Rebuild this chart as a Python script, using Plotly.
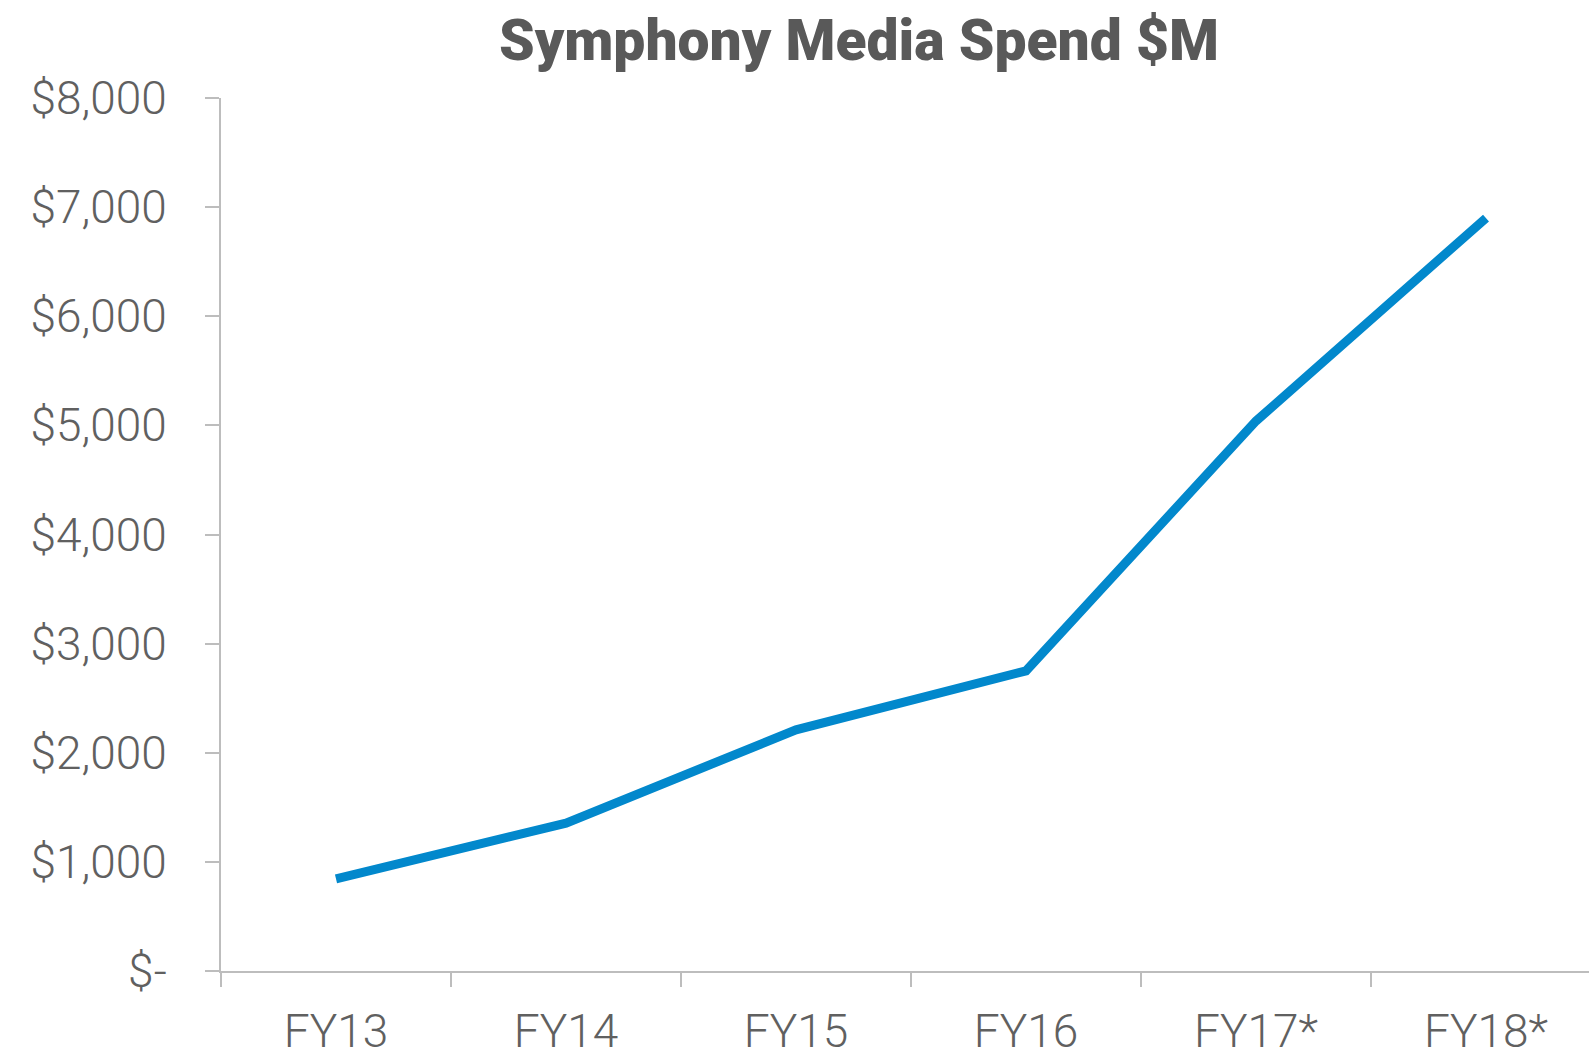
import plotly.graph_objects as go

categories = ["FY13", "FY14", "FY15", "FY16", "FY17*", "FY18*"]
spend = [845, 1355, 2210, 2750, 5040, 6900]
y_ticks = [0, 1000, 2000, 3000, 4000, 5000, 6000, 7000, 8000]
y_tick_labels = ["$-", "$1,000", "$2,000", "$3,000", "$4,000", "$5,000", "$6,000", "$7,000", "$8,000"]

W, H = 1589, 1054
L, T, B = 221, 98, 83

fig = go.Figure(go.Scatter(
    x=categories, y=spend, mode="lines",
    line=dict(color="#0288CC", width=9), hoverinfo="skip",
))

tick_font = dict(family="Roboto Light, Roboto", size=46, color="#606060", weight=300)
axis_col = "#BDBDBD"

fig.update_layout(
    width=W, height=H,
    margin=dict(l=L, r=0, t=T, b=B, autoexpand=False),
    paper_bgcolor="white", plot_bgcolor="white",
    showlegend=False,
    title=dict(text="Symphony Media Spend $M", x=859 / W, xanchor="center",
               y=1 - 40 / H, yanchor="middle", yref="container",
               font=dict(family="Roboto Black, Roboto", size=57, color="#595959", weight=900)),
    xaxis=dict(
        type="category", categoryorder="array", categoryarray=categories,
        range=[-0.5, (W - L) / 230 - 0.5],
        showgrid=False, zeroline=False,
        showline=True, linecolor=axis_col, linewidth=2,
        ticks="outside", tickson="boundaries", ticklen=14, tickwidth=2, tickcolor=axis_col,
        tickfont=tick_font, ticklabelstandoff=19, automargin=False,
    ),
    yaxis=dict(
        tickmode="array", tickvals=y_ticks, ticktext=y_tick_labels,
        range=[0, 8000], showgrid=False, zeroline=False,
        showline=True, linecolor=axis_col, linewidth=2,
        ticks="outside", ticklen=14, tickwidth=2, tickcolor=axis_col,
        tickfont=tick_font, ticklabelstandoff=29, automargin=False,
    ),
)

fig.write_html("out.html", config={"displayModeBar": False, "staticPlot": True},
               post_script="document.body.style.margin='0';document.body.style.overflow='hidden';")
